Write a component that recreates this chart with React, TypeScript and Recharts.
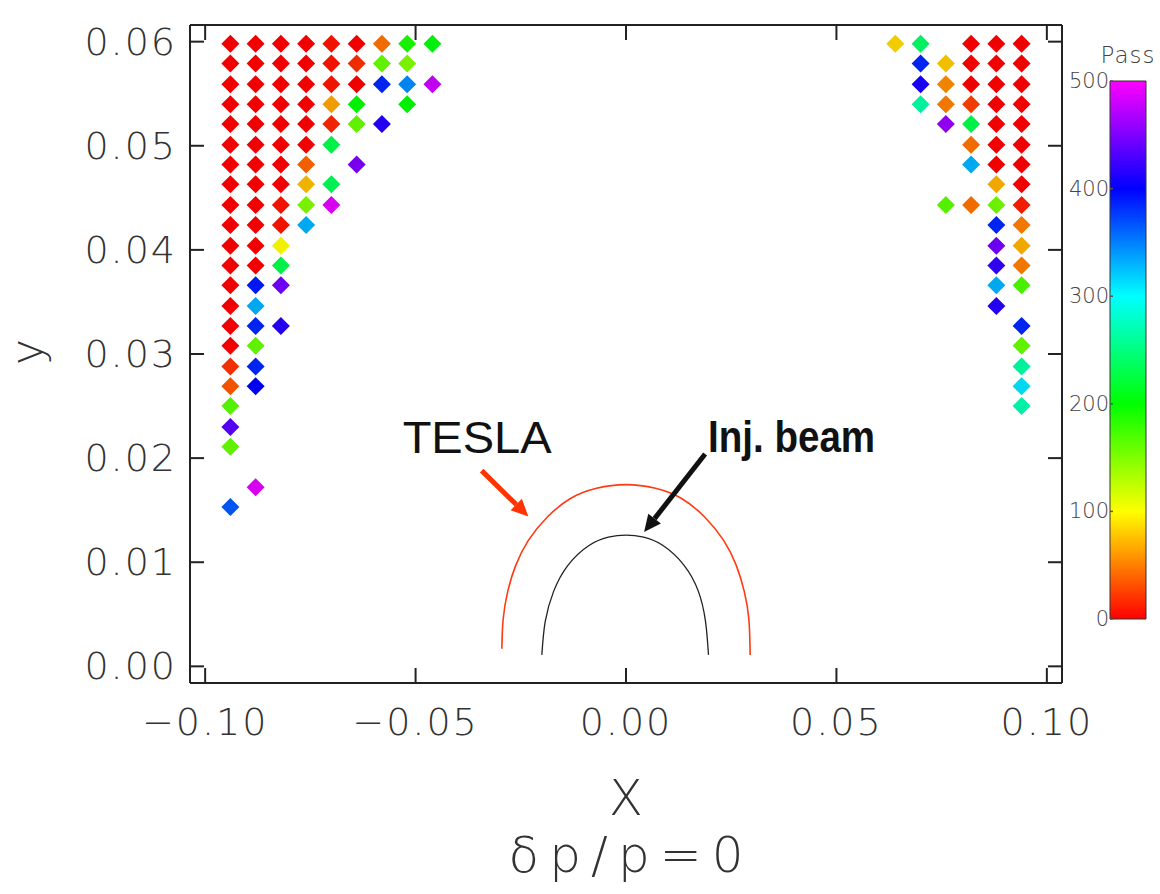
import {
  Bar,
  BarChart,
  ComposedChart,
  Label,
  Line,
  ReferenceLine,
  Scatter,
  XAxis,
  YAxis,
} from 'recharts';

// grid columns (x) on both sides of the aperture
const LEFT_X = [-0.094, -0.088, -0.082, -0.076, -0.07, -0.064, -0.058, -0.052, -0.046];
const RIGHT_X = [0.064, 0.07, 0.076, 0.082, 0.088, 0.094];

// grid rows (y), top to bottom
const ROW_Y = [
  0.0598, 0.0579, 0.0559, 0.054, 0.0521, 0.0501, 0.0482, 0.0463, 0.0443, 0.0424, 0.0404, 0.0385,
  0.0366, 0.0346, 0.0327, 0.0308, 0.0288, 0.0269, 0.025, 0.023, 0.0211, 0.0192, 0.0172, 0.0153,
];

// number of passes survived, one row per ROW_Y entry (null = no particle)
const LEFT_PASS: (number | null)[][] = [
  [0, 0, 0, 0, 8, 0, 45, 190, 205],
  [0, 0, 0, 0, 8, 18, 160, 150],
  [0, 0, 0, 0, 8, 0, 385, 345, 480],
  [0, 0, 0, 0, 65, 200, null, 200],
  [0, 0, 0, 0, 15, 160, 415],
  [0, 0, 0, 0, 230],
  [0, 0, 0, 40, null, 450],
  [0, 0, 0, 75, 235],
  [0, 0, 8, 150, 490],
  [0, 0, 8, 330],
  [0, 0, 100],
  [0, 0, 230],
  [0, 390, 445],
  [0, 330],
  [0, 385, 415],
  [0, 160],
  [20, 385],
  [35, 400],
  [165],
  [435],
  [160],
  [],
  [null, 490],
  [365],
];

const RIGHT_PASS: (number | null)[][] = [
  [85, 240, null, 0, 0, 0],
  [null, 385, 80, 0, 0, 0],
  [null, 410, 55, 0, 0, 0],
  [null, 265, 50, 25, 0, 0],
  [null, null, 460, 230, 0, 0],
  [null, null, null, 45, 0, 0],
  [null, null, null, 330, 0, 0],
  [null, null, null, null, 70, 0],
  [null, null, 165, 45, 155, 12],
  [null, null, null, null, 385, 50],
  [null, null, null, null, 445, 70],
  [null, null, null, null, 420, 50],
  [null, null, null, null, 330, 170],
  [null, null, null, null, 415],
  [null, null, null, null, null, 385],
  [null, null, null, null, null, 160],
  [null, null, null, null, null, 265],
  [null, null, null, null, null, 310],
  [null, null, null, null, null, 270],
];

const TESLA_CURVE = [
  { x: -0.0295, y: 0.0017 },
  { x: -0.0292, y: 0.0045 },
  { x: -0.0281, y: 0.0072 },
  { x: -0.0262, y: 0.0097 },
  { x: -0.0232, y: 0.0121 },
  { x: -0.0188, y: 0.0143 },
  { x: -0.0133, y: 0.0161 },
  { x: -0.007, y: 0.0171 },
  { x: 0, y: 0.01745 },
  { x: 0.007, y: 0.0171 },
  { x: 0.0133, y: 0.0161 },
  { x: 0.0188, y: 0.0143 },
  { x: 0.0232, y: 0.0121 },
  { x: 0.0262, y: 0.0097 },
  { x: 0.0281, y: 0.0072 },
  { x: 0.0292, y: 0.0045 },
  { x: 0.0295, y: 0.0011 },
];

const BEAM_CURVE = [
  { x: -0.02, y: 0.0011 },
  { x: -0.0192, y: 0.0043 },
  { x: -0.0172, y: 0.0072 },
  { x: -0.0138, y: 0.0097 },
  { x: -0.0088, y: 0.0116 },
  { x: -0.0042, y: 0.0124 },
  { x: 0, y: 0.0126 },
  { x: 0.0042, y: 0.0124 },
  { x: 0.0088, y: 0.0116 },
  { x: 0.0138, y: 0.0097 },
  { x: 0.0172, y: 0.0072 },
  { x: 0.0189, y: 0.0043 },
  { x: 0.0196, y: 0.0011 },
];

const X_TICKS = [-0.1, -0.05, 0, 0.05, 0.1];
const Y_TICKS = [0, 0.01, 0.02, 0.03, 0.04, 0.05, 0.06];
const PASS_TICKS = [0, 100, 200, 300, 400, 500];
const PASS_STOPS = ['#ff00ff', '#0000ff', '#00ffff', '#00ff00', '#ffff00', '#ff0000'];

const TEXT_FONT = '"DejaVu Sans", sans-serif';
const AXIS = '#222';
const LABEL = '#333';

// rainbow: 0 red -> 100 yellow -> 200 green -> 300 cyan -> 400 blue -> 500 magenta
const passColor = (p: number) => `hsl(${p * 0.6}, 100%, 47%)`;

function buildPoints(xs: number[], grid: (number | null)[][]) {
  const pts: { x: number; y: number; pass: number }[] = [];
  grid.forEach((row, r) =>
    row.forEach((pass, c) => {
      if (pass !== null && pass !== undefined) pts.push({ x: xs[c], y: ROW_Y[r], pass });
    }),
  );
  return pts;
}

const points = [...buildPoints(LEFT_X, LEFT_PASS), ...buildPoints(RIGHT_X, RIGHT_PASS)];

const fmt = (v: number) => v.toFixed(2).replace('-', '\u2212');

function Diamond(props: any) {
  const { cx, cy, payload } = props;
  const r = 9;
  return (
    <polygon
      points={`${cx},${cy - r} ${cx + r},${cy} ${cx},${cy + r} ${cx - r},${cy}`}
      fill={passColor(payload.pass)}
    />
  );
}

function BottomTick({ x, y, payload }: any) {
  return (
    <g>
      <line x1={x} y1={y} x2={x} y2={y - 15} stroke={AXIS} strokeWidth={2} />
      <text x={x} y={y + 52} textAnchor="middle" fontSize={38} fontFamily={TEXT_FONT} fontWeight={200} fill={LABEL} letterSpacing={2}>
        {fmt(payload.value)}
      </text>
    </g>
  );
}

function TopTick({ x, y }: any) {
  return <line x1={x} y1={y} x2={x} y2={y + 15} stroke={AXIS} strokeWidth={2} />;
}

function LeftTick({ x, y, payload }: any) {
  return (
    <g>
      <line x1={x} y1={y} x2={x + 14} y2={y} stroke={AXIS} strokeWidth={2} />
      <text x={x - 13} y={y + 13} textAnchor="end" fontSize={38} fontFamily={TEXT_FONT} fontWeight={200} fill={LABEL} letterSpacing={2}>
        {fmt(payload.value)}
      </text>
    </g>
  );
}

function RightTick({ x, y }: any) {
  return <line x1={x} y1={y} x2={x - 14} y2={y} stroke={AXIS} strokeWidth={2} />;
}

function PassTick({ x, y, payload }: any) {
  return (
    <g>
      <line x1={x} y1={y} x2={x + 3} y2={y} stroke="#555" strokeWidth={1.5} />
      <text x={x - 1} y={y + 7} textAnchor="end" fontSize={21} fontFamily={TEXT_FONT} fontWeight={200} fill="#444">
        {payload.value}
      </text>
    </g>
  );
}

function Arrow(props: any) {
  const { x1, y1, x2, y2, color, text, dx, dy, bold } = props;
  const len = Math.hypot(x2 - x1, y2 - y1);
  const ux = (x2 - x1) / len;
  const uy = (y2 - y1) / len;
  const head = 17;
  const half = 8;
  const bx = x2 - ux * head;
  const by = y2 - uy * head;
  return (
    <g>
      <line x1={x1} y1={y1} x2={bx} y2={by} stroke={color} strokeWidth={5} />
      <polygon
        points={`${x2},${y2} ${bx - uy * half},${by + ux * half} ${bx + uy * half},${by - ux * half}`}
        fill={color}
      />
      <text
        x={x1 + dx}
        y={y1 + dy}
        fontSize={44}
        fontWeight={bold ? 700 : 400}
        fontFamily={bold ? '"Liberation Sans Narrow", "Liberation Sans", sans-serif' : '"Liberation Sans", Arial, sans-serif'}
        textLength={bold ? 167 : 149}
        lengthAdjust="spacingAndGlyphs"
        fill="#111"
      >
        {text}
      </text>
    </g>
  );
}

export default function App() {
  return (
    <div style={{ position: 'absolute', left: 0, top: 0, width: 1160, height: 894, background: '#fff' }}>
      <div style={{ position: 'absolute', left: 0, top: 0 }}>
        <ComposedChart width={1160} height={894} margin={{ top: 20, right: 88, bottom: 61, left: 10 }}>
          <XAxis
            dataKey="x"
            type="number"
            domain={[-0.1036, 0.1036]}
            ticks={X_TICKS}
            interval={0}
            allowDataOverflow
            height={150}
            tickSize={0}
            tickMargin={0}
            tickLine={false}
            tick={<BottomTick />}
            axisLine={{ stroke: AXIS, strokeWidth: 2 }}
          >
            <Label
              content={({ viewBox }: any) => (
                <g fontFamily={TEXT_FONT} fontWeight={200} fill={LABEL}>
                  <text x={viewBox.x + viewBox.width / 2} y={viewBox.y + 132} textAnchor="middle" fontSize={50}>
                    X
                  </text>
                  <text
                    x={viewBox.x + viewBox.width / 2}
                    y={viewBox.y + 189}
                    textAnchor="middle"
                    fontSize={50}
                    textLength={235}
                    lengthAdjust="spacing"
                  >
                    δp/p=0
                  </text>
                </g>
              )}
            />
          </XAxis>
          <XAxis
            xAxisId="top"
            orientation="top"
            dataKey="x"
            type="number"
            domain={[-0.1036, 0.1036]}
            ticks={X_TICKS}
            interval={0}
            allowDataOverflow
            height={5}
            tickSize={0}
            tickMargin={0}
            tickLine={false}
            tick={<TopTick />}
            axisLine={{ stroke: AXIS, strokeWidth: 2 }}
          />
          <YAxis
            dataKey="y"
            type="number"
            domain={[-0.0016, 0.0616]}
            ticks={Y_TICKS}
            interval={0}
            allowDataOverflow
            width={180}
            tickSize={0}
            tickMargin={0}
            tickLine={false}
            tick={<LeftTick />}
            axisLine={{ stroke: AXIS, strokeWidth: 2 }}
          >
            <Label
              content={({ viewBox }: any) => (
                <text
                  x={viewBox.x + 32}
                  y={viewBox.y + viewBox.height / 2 - 2}
                  textAnchor="middle"
                  fontSize={44}
                  fontFamily={TEXT_FONT}
                  fontWeight={200}
                  fill={LABEL}
                  transform={`rotate(-90 ${viewBox.x + 32} ${viewBox.y + viewBox.height / 2 - 2})`}
                >
                  y
                </text>
              )}
            />
          </YAxis>
          <YAxis
            yAxisId="right"
            orientation="right"
            dataKey="y"
            type="number"
            domain={[-0.0016, 0.0616]}
            ticks={Y_TICKS}
            interval={0}
            allowDataOverflow
            width={10}
            tickSize={0}
            tickMargin={0}
            tickLine={false}
            tick={<RightTick />}
            axisLine={{ stroke: AXIS, strokeWidth: 2 }}
          />
          <Scatter data={points} dataKey="y" shape={<Diamond />} isAnimationActive={false} />
          <Line
            data={TESLA_CURVE}
            dataKey="y"
            type="natural"
            stroke="#ff3a10"
            strokeWidth={1.6}
            dot={false}
            activeDot={false}
            isAnimationActive={false}
          />
          <Line
            data={BEAM_CURVE}
            dataKey="y"
            type="natural"
            stroke="#222"
            strokeWidth={1.3}
            dot={false}
            activeDot={false}
            isAnimationActive={false}
          />
          <ReferenceLine
            segment={[
              { x: -0.0343, y: 0.0188 },
              { x: -0.0232, y: 0.0144 },
            ]}
            ifOverflow="visible"
            shape={(p: any) => <Arrow {...p} color="#ff3300" text="TESLA" dx={-79} dy={-18} />}
          />
          <ReferenceLine
            segment={[
              { x: 0.0188, y: 0.0204 },
              { x: 0.0043, y: 0.0129 },
            ]}
            ifOverflow="visible"
            shape={(p: any) => <Arrow {...p} color="#111" text="Inj. beam" dx={3} dy={-2} bold />}
          />
        </ComposedChart>
      </div>

      <div style={{ position: 'absolute', left: 1060, top: 0 }}>
        <BarChart
          width={100}
          height={650}
          data={[{ name: 'Pass', value: 500 }]}
          margin={{ top: 81, right: 14, bottom: 31, left: 0 }}
          barCategoryGap={0}
        >
          <defs>
            <linearGradient id="passGradient" x1="0" y1="0" x2="0" y2="1">
              {PASS_STOPS.map((c, i) => (
                <stop key={i} offset={`${i * 20}%`} stopColor={c} />
              ))}
            </linearGradient>
          </defs>
          <XAxis dataKey="name" hide height={0} />
          <YAxis
            type="number"
            domain={[0, 500]}
            ticks={PASS_TICKS}
            interval={0}
            width={50}
            axisLine={false}
            tickSize={0}
            tickMargin={0}
            tickLine={false}
            tick={<PassTick />}
          />
          <Bar
            dataKey="value"
            fill="url(#passGradient)"
            stroke="#333"
            strokeWidth={1}
            isAnimationActive={false}
            label={(p: any) => (
              <text
                x={p.x + p.width / 2}
                y={p.y - 18}
                textAnchor="middle"
                fontSize={23}
                fontFamily={TEXT_FONT}
                fontWeight={200}
                fill="#444"
                letterSpacing={1}
              >
                Pass
              </text>
            )}
          />
        </BarChart>
      </div>
    </div>
  );
}
